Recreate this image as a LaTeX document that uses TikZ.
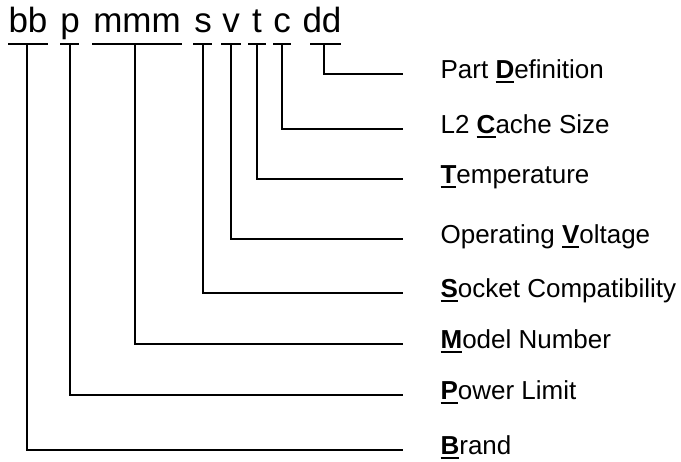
\documentclass[tikz,border=0pt]{standalone}
\usepackage{fontspec}
\setmainfont{Liberation Sans}
\newcommand{\keyletter}[1]{\setbox0\hbox{\textbf{#1}}\rlap{\rule[-4pt]{\wd0}{2pt}}\box0}

\begin{document}
\begin{tikzpicture}[x=1pt, y=-1pt, line width=1.2pt,
    code/.style={anchor=base, inner sep=0pt, font=\fontsize{35}{40}\selectfont},
    field/.style={anchor=base west, inner sep=0pt, font=\fontsize{26}{30}\selectfont}]
    \useasboundingbox (0,0) rectangle (681,462);

    % Part number code
    \node[code] (bb) at (28,33) {bb};
    \node[code] (p) at (70,33) {p};
    \node[code] (mmm) at (137,33) {mmm};
    \node[code] (s) at (203,33) {s};
    \node[code] (v) at (231,33) {v};
    \node[code] (t) at (257,33) {t};
    \node[code] (c) at (282,33) {c};
    \node[code] (dd) at (322,33) {dd};

    % Underlines below the code
    \draw (8,44) -- (48,44);
    \draw (60,44) -- (79,44);
    \draw (92,44) -- (182,44);
    \draw (193,44) -- (212,44);
    \draw (221,44) -- (241,44);
    \draw (248,44) -- (266,44);
    \draw (273,44) -- (291,44);
    \draw (310,44) -- (341,44);
    \coordinate (ubb) at (27,44);
    \coordinate (up) at (70,44);
    \coordinate (ummm) at (135,44);
    \coordinate (us) at (203,44);
    \coordinate (uv) at (231,44);
    \coordinate (ut) at (257,44);
    \coordinate (uc) at (282,44);
    \coordinate (udd) at (324,44);

    % Field names
    \node[field] (part) at (440,79) {Part \keyletter{D}efinition};
    \node[field] (cache) at (440,134) {L2 \keyletter{C}ache Size};
    \node[field] (temp) at (440,184) {\keyletter{T}emperature};
    \node[field] (volt) at (440,244) {Operating \keyletter{V}oltage};
    \node[field] (socket) at (440,298) {\keyletter{S}ocket Compatibility};
    \node[field] (model) at (440,349) {\keyletter{M}odel Number};
    \node[field] (power) at (440,400) {\keyletter{P}ower Limit};
    \node[field] (brand) at (440,455) {\keyletter{B}rand};

    % Line ends in front of the field names
    \coordinate (epart) at (403,74);
    \coordinate (ecache) at (403,129);
    \coordinate (etemp) at (403,179);
    \coordinate (evolt) at (403,239);
    \coordinate (esocket) at (403,293);
    \coordinate (emodel) at (403,344);
    \coordinate (epower) at (403,395);
    \coordinate (ebrand) at (403,450);

    % Connectors
    \draw (udd) |- (epart);
    \draw (uc) |- (ecache);
    \draw (ut) |- (etemp);
    \draw (uv) |- (evolt);
    \draw (us) |- (esocket);
    \draw (ummm) |- (emodel);
    \draw (up) |- (epower);
    \draw (ubb) |- (ebrand);
\end{tikzpicture}
\end{document}
